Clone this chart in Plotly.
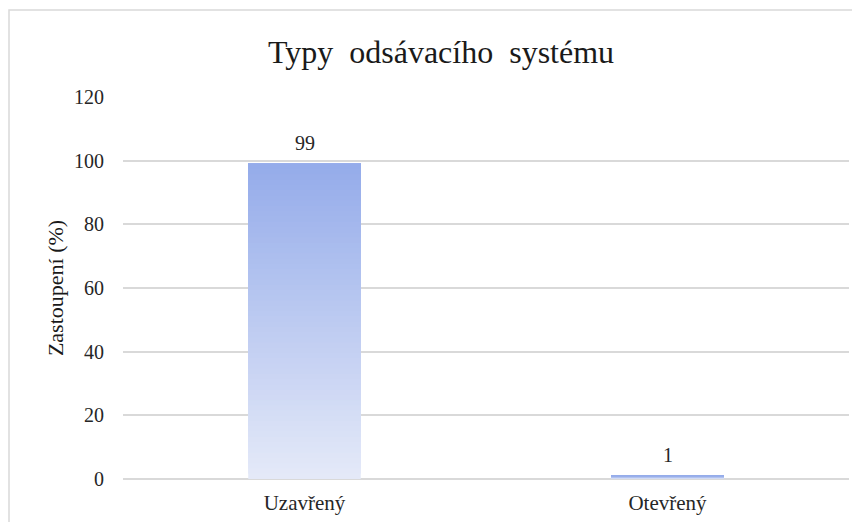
import plotly.graph_objects as go

categories = ["Uzavřený", "Otevřený"]
values = [99, 1]
labels = ["99", "1"]
title_text = "Typy  odsávacího  systému"
y_title = "Zastoupení (%)"
y_ticks = [0, 20, 40, 60, 80, 100, 120]

FONT = "Liberation Serif"
TOP = (149, 172, 234)
BOTTOM = (228, 233, 248)
STEPS = 60

fig = go.Figure()

# gradient bars: overlapping slices, each one starts a bit higher and is a bit darker
for i in range(STEPS):
    t = i / (STEPS - 1)
    c = tuple(round(BOTTOM[k] + (TOP[k] - BOTTOM[k]) * t) for k in range(3))
    fig.add_trace(
        go.Bar(
            x=categories,
            y=[v * (1 - i / STEPS) for v in values],
            base=[v * i / STEPS for v in values],
            marker=dict(color="rgb(%d,%d,%d)" % c, line_width=0),
            width=0.31,
            hoverinfo="skip",
            showlegend=False,
        )
    )

# data labels above the bars
for cat, v, lab in zip(categories, values, labels):
    fig.add_annotation(
        x=cat,
        y=v,
        text=lab,
        showarrow=False,
        yanchor="middle",
        yshift=21,
        font=dict(family=FONT, size=20, color="#262626"),
    )

fig.update_layout(
    barmode="overlay",
    width=860,
    height=522,
    margin=dict(l=115, r=19, t=89, b=51),
    paper_bgcolor="white",
    plot_bgcolor="white",
    title=dict(
        text=title_text,
        x=0.438,
        xref="paper",
        xanchor="center",
        y=1 - 44 / 522,
        yref="container",
        yanchor="middle",
        font=dict(family=FONT, size=32, color="#1a1a1a"),
    ),
    font=dict(family=FONT, size=20, color="#262626"),
    xaxis=dict(
        showgrid=False,
        showline=False,
        ticks="",
        ticklabelstandoff=9,
        tickfont=dict(family=FONT, size=21, color="#262626"),
    ),
    yaxis=dict(
        range=[0, 120],
        tickvals=y_ticks,
        showgrid=True,
        gridcolor="#d9d9d9",
        gridwidth=1.5,
        zeroline=True,
        zerolinecolor="#d9d9d9",
        zerolinewidth=1.5,
        ticks="",
        ticklabelstandoff=18,
        tickfont=dict(family=FONT, size=20, color="#262626"),
        title=dict(text=y_title, standoff=4, font=dict(family=FONT, size=22, color="#1a1a1a")),
    ),
    shapes=[
        dict(
            type="rect",
            xref="paper",
            yref="paper",
            x0=-114 / 726,
            x1=1.2,
            y0=-0.3,
            y1=1 + 87 / 382,
            line=dict(color="#d9d9d9", width=1.5),
            fillcolor="rgba(0,0,0,0)",
            layer="below",
        )
    ],
)

fig.write_html("out.html")
